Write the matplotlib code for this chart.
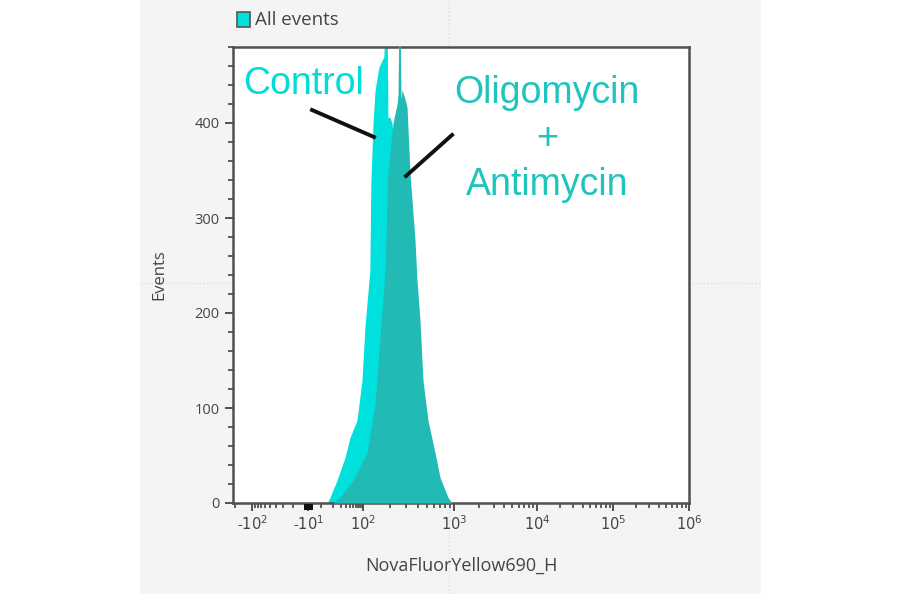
import numpy as np
import matplotlib
matplotlib.use("Agg")
import matplotlib.pyplot as plt
from matplotlib.patches import Rectangle
from matplotlib.lines import Line2D
from matplotlib.ticker import FixedLocator, MultipleLocator

# ---------------- data ----------------
# Control histogram (fluorescence intensity, events)
ctrl_x = [5, 7.2, 14.5, 27.3, 39.4, 65, 93, 105, 119, 122, 129, 136, 150, 170,
          175, 184, 188, 198, 208, 225, 249, 269, 290, 329, 373, 423, 518, 619]
ctrl_y = [0, 6, 24, 48, 69, 87, 129, 185, 245, 337, 400, 435, 459, 470,
          520, 520, 406, 406, 400, 370, 330, 290, 240, 160, 95, 45, 12, 0]

# Oligomycin + Antimycin histogram
oa_x = [10, 18.5, 49, 111, 136, 154, 175, 188, 214, 237, 243, 249, 255, 262,
        269, 290, 305, 329, 373, 392, 423, 457, 518, 619, 702, 859, 950]
oa_y = [0, 6, 24, 53, 105, 175, 245, 347, 400, 420, 430, 520, 520, 425,
        435, 425, 417, 347, 277, 235, 193, 129, 87, 53, 27, 6, 0]

x_ticks = [-100, -10, 100, 1e3, 1e4, 1e5, 1e6]
x_tick_labels = [r"-$10^{2}$", r"-$10^{1}$", r"$10^{2}$", r"$10^{3}$",
                 r"$10^{4}$", r"$10^{5}$", r"$10^{6}$"]
y_ticks = [0, 100, 200, 300, 400]

# ---------------- style ----------------
W, H = 900, 594
CYAN = "#00e0dc"
TEAL = "#22bab5"
GREY = "#444444"

plt.rcParams["font.family"] = ["Open Sans", "DejaVu Sans"]
plt.rcParams["mathtext.fontset"] = "dejavusans"
plt.rcParams["axes.unicode_minus"] = False

fig = plt.figure(figsize=(W / 100, H / 100), dpi=100)
fig.patch.set_facecolor("white")
fig.patches.append(Rectangle((140 / W, 0), (761 - 140) / W, 1,
                             transform=fig.transFigure, facecolor="#f4f4f4",
                             edgecolor="none", zorder=-10))
# faint crosshair lines outside the plot
fig.add_artist(Line2D([449 / W, 449 / W], [0, 1], transform=fig.transFigure,
                      color="#cfe2ec", lw=1, ls=":", zorder=-5))
fig.add_artist(Line2D([140 / W, 761 / W], [1 - 283 / H, 1 - 283 / H],
                      transform=fig.transFigure, color="#cfe2ec", lw=1, ls=":",
                      zorder=-5))

ax = fig.add_axes([233 / W, 1 - 503 / H, (689 - 233) / W, (503 - 47) / H])
ax.set_facecolor("white")
ax.set_zorder(1)

# biexponential-like display scale
anchor_vals = np.array([-1e4, -1e3, -1e2, -1e1, 1e2, 1e3, 1e4, 1e5, 1e6, 1e7])
anchor_pos = np.array([-0.204, -0.0811, 0.0417, 0.1645, 0.2851, 0.4846,
                       0.6667, 0.8333, 1.0, 1.1667])
anchor_T = np.arcsinh(anchor_vals / 10.0)


def fwd(x):
    return np.interp(np.arcsinh(np.asarray(x, dtype=float) / 10.0), anchor_T, anchor_pos)


def inv(p):
    return 10.0 * np.sinh(np.interp(np.asarray(p, dtype=float), anchor_pos, anchor_T))


ax.set_xscale("function", functions=(fwd, inv))
ax.set_xlim(float(inv(0.0)), 1e6)
ax.set_ylim(0, 480)

ax.fill_between(ctrl_x, ctrl_y, 0, color=CYAN, lw=0, zorder=2)
ax.fill_between(oa_x, oa_y, 0, color=TEAL, lw=0, zorder=3)

# ticks
ax.xaxis.set_major_locator(FixedLocator(x_ticks))
ax.set_xticklabels(x_tick_labels)
minor = []
for k in (1, 2):
    minor += [-m * 10 ** k for m in range(2, 10)]
minor += [m * 10 for m in range(0, 10)]
for k in (2, 3, 4, 5):
    minor += [m * 10 ** k for m in range(2, 10)]
ax.xaxis.set_minor_locator(FixedLocator(minor))
ax.yaxis.set_major_locator(FixedLocator(y_ticks))
ax.yaxis.set_minor_locator(MultipleLocator(20))
ax.tick_params(which="major", direction="out", length=6, width=1.3,
               color=GREY, labelcolor=GREY, labelsize=10.5)
ax.tick_params(which="minor", direction="out", length=3.5, width=1.2, color=GREY)
ax.tick_params(axis="x", pad=3)
for s in ax.spines.values():
    s.set_color("#505050")
    s.set_linewidth(1.8)

ax.set_ylabel("Events", color=GREY, fontsize=12, labelpad=20)
ax.set_xlabel("NovaFluorYellow690_H", color=GREY, fontsize=13, labelpad=16)

# legend swatch
fig.patches.append(Rectangle((237 / W, 1 - 27 / H), 13 / W, 15 / H,
                             transform=fig.transFigure, facecolor=CYAN,
                             edgecolor="#555555", lw=1.2, zorder=5))
fig.text(255 / W, 1 - 20 / H, "All events", color=GREY, fontsize=13.5,
         va="center", ha="left")

# small black marker on the axis at -10^1
fig.patches.append(Rectangle((304 / W, 1 - 510 / H), 9 / W, 6 / H,
                             transform=fig.transFigure, facecolor="#111111",
                             edgecolor="none", zorder=5))

# annotations
ann_font = ["Liberation Sans", "DejaVu Sans"]
fig.text(243 / W, 1 - 84 / H, "Control", color="#00dcd8", fontsize=27,
         family=ann_font, va="center", ha="left")
for txt, yy in (("Oligomycin", 93), ("+", 139), ("Antimycin", 185)):
    fig.text(547 / W, 1 - yy / H, txt, color="#1fc4bf", fontsize=27,
             family=ann_font, va="center", ha="center")

fig.add_artist(Line2D([312 / W, 374 / W], [1 - 110 / H, 1 - 137 / H],
                      transform=fig.transFigure, color="#111111", lw=2.8,
                      zorder=10))
fig.add_artist(Line2D([452 / W, 406 / W], [1 - 135 / H, 1 - 176 / H],
                      transform=fig.transFigure, color="#111111", lw=2.8,
                      zorder=10))

fig.savefig("out.png", dpi=100)
